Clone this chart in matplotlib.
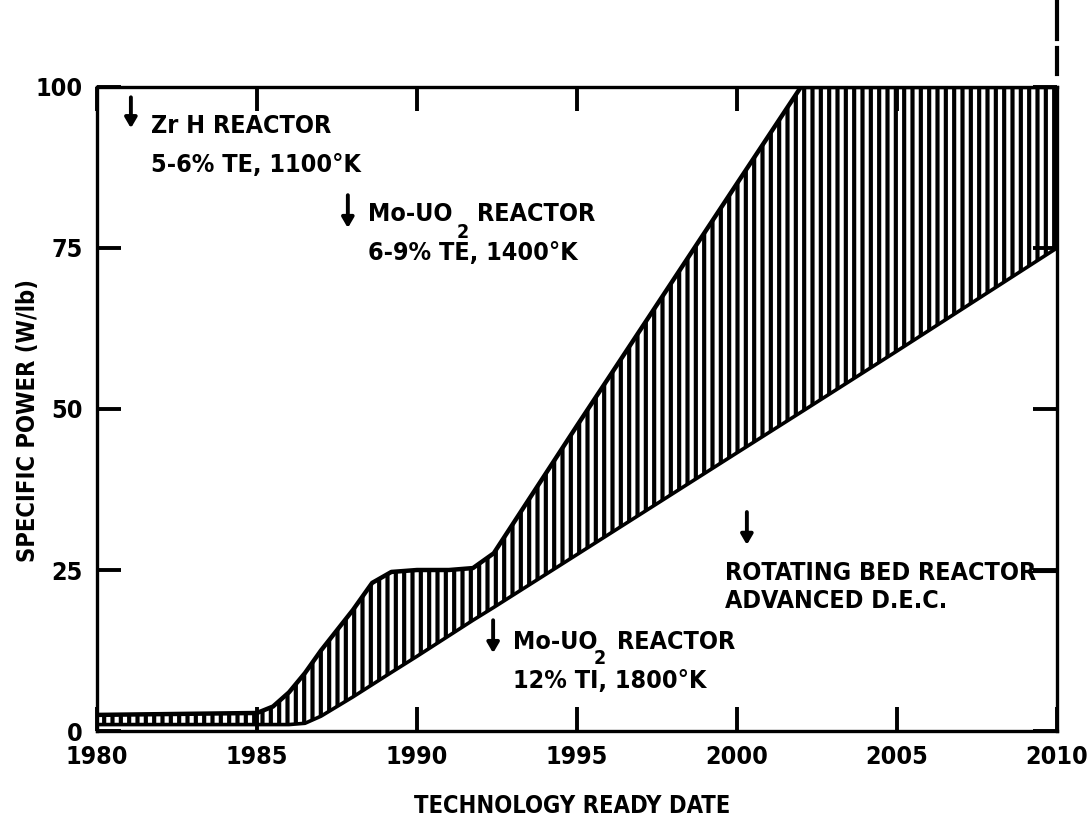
import matplotlib
matplotlib.use("Agg")
import matplotlib.pyplot as plt

plt.rcParams['font.family'] = ['DejaVu Sans']
plt.rcParams['font.stretch'] = 'condensed'
plt.rcParams['font.weight'] = 'bold'
plt.rcParams['hatch.linewidth'] = 3.0

# curve data
years = [1980, 1985, 1985.5, 1986, 1986.5, 1987, 1988, 1988.6, 1989.2, 1990,
         1991, 1991.75, 1992.4, 1995, 2000, 2002, 2005, 2010]
upper = [2.5, 2.8, 3.8, 6.0, 9.0, 12.5, 18.8, 23.0, 24.7, 25.0,
         25.0, 25.3, 27.6, 47.4, 85.0, 100, 100, 100]
lower = [1.0, 1.0, 1.0, 1.0, 1.2, 2.3, 5.3, 7.2, 9.1, 11.6,
         14.8, 17.2, 19.2, 27.4, 43.2, 49.5, 59.0, 75.0]

x_ticks = [1980, 1985, 1990, 1995, 2000, 2005, 2010]
y_ticks = [0, 25, 50, 75, 100]

fig = plt.figure(figsize=(10.92, 8.26), dpi=100)
ax = fig.add_axes([0.0888, 0.115, 0.8791, 0.7797])

ax.fill_between(years, lower, upper, facecolor='white', edgecolor='black',
                hatch='||', linewidth=0)
ax.plot(years, upper, color='black', lw=3.2, solid_capstyle='butt')
ax.plot(years, lower, color='black', lw=2.6, solid_capstyle='butt')

ax.set_xlim(1980, 2010)
ax.set_ylim(0, 100)
ax.set_xticks(x_ticks)
ax.set_yticks(y_ticks)
ax.tick_params(direction='in', length=17, width=2.8, top=True, right=True,
               labelsize=18)
ax.tick_params(axis='x', pad=10)
ax.tick_params(axis='y', pad=10)
for s in ax.spines.values():
    s.set_linewidth(2.4)
for lab in ax.get_xticklabels() + ax.get_yticklabels():
    lab.set_fontweight('bold')
    lab.set_fontstretch('condensed')

# right spine broken extension above the plot
ax.plot([2010, 2010], [102, 106], color='black', lw=3, clip_on=False)
ax.plot([2010, 2010], [107.5, 113.5], color='black', lw=3, clip_on=False)

fig.text(0.026, 0.4915, 'SPECIFIC POWER (W/lb)', rotation=90, ha='center',
         va='center', fontsize=17)
fig.text(0.524, 0.024, 'TECHNOLOGY READY DATE', ha='center', va='center',
         fontsize=17)

arrow = dict(arrowstyle='-|>,head_width=0.35,head_length=0.6', lw=2.8,
             color='black', shrinkA=0, shrinkB=0)
txt = dict(fontsize=18, va='center', ha='left')
sub = dict(fontsize=14, va='center', ha='center')

ax.annotate('', xy=(1981.06, 93.6), xytext=(1981.06, 98.4), arrowprops=arrow)
ax.text(1981.7, 93.9, 'Zr H REACTOR', **txt)
ax.text(1981.7, 87.9, '5-6% TE, 1100°K', **txt)

ax.annotate('', xy=(1987.84, 78.1), xytext=(1987.84, 83.2), arrowprops=arrow)
ax.text(1988.47, 80.3, 'Mo-UO', **txt)
ax.text(1991.44, 77.4, '2', **sub)
ax.text(1991.88, 80.3, 'REACTOR', **txt)
ax.text(1988.47, 74.2, '6-9% TE, 1400°K', **txt)

ax.annotate('', xy=(1992.38, 12.1), xytext=(1992.38, 17.2), arrowprops=arrow)
ax.text(1993.0, 13.8, 'Mo-UO', **txt)
ax.text(1995.72, 11.3, '2', **sub)
ax.text(1996.25, 13.8, 'REACTOR', **txt)
ax.text(1993.0, 7.7, '12% TI, 1800°K', **txt)

ax.annotate('', xy=(2000.31, 28.9), xytext=(2000.31, 34.0), arrowprops=arrow)
ax.text(1999.63, 24.5, 'ROTATING BED REACTOR', **txt)
ax.text(1999.63, 20.2, 'ADVANCED D.E.C.', **txt)
ax.plot([2009.2, 2010], [24.7, 24.7], color='black', lw=1.5)

fig.savefig('out.png', dpi=100)
